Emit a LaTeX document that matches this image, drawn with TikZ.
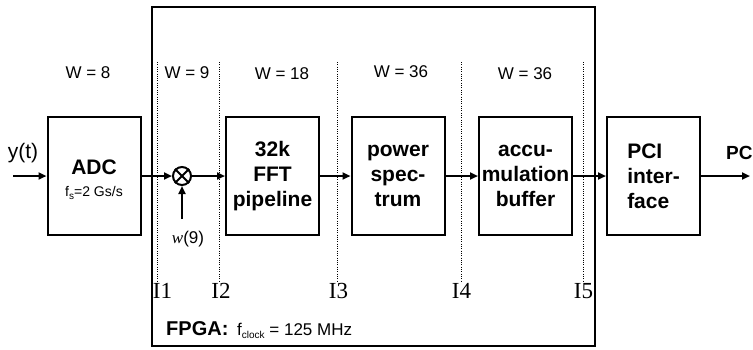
\documentclass[tikz,border=0pt]{standalone}
\usepackage{fontspec}
\setmainfont{Liberation Sans}
\newfontfamily\seriffont{Liberation Serif}
\usetikzlibrary{arrows.meta}
\newcommand{\lowsub}[1]{\raisebox{-0.35ex}{\fontsize{10}{10}\selectfont #1}}
\begin{document}
\begin{tikzpicture}[x=1pt,y=-1pt,
  blk/.style={draw,line width=2pt,minimum width=93pt,minimum height=118pt,inner sep=0pt,align=center,font=\fontsize{21}{25}\selectfont\bfseries},
  sig/.style={line width=2pt,-{Triangle[length=8pt,width=7pt]}},
  divider/.style={line width=1pt,dash pattern=on 1pt off 1.3pt},
  wlab/.style={anchor=base,inner sep=0pt,font=\fontsize{17}{17}\selectfont},
  ilab/.style={anchor=base,inner sep=0pt,font=\fontsize{23}{23}\seriffont},
]
\useasboundingbox (0,0) rectangle (753,349);
% FPGA frame
\draw[line width=2pt] (152,7) rectangle (595,346);
% blocks
\node[blk] (adc) at (94,176) {};
\node[inner sep=0pt,align=center,font=\fontsize{21}{25}\selectfont\bfseries] (adctxt) at ([yshift=-4pt]adc.center) {ADC\\[-3pt]{\fontsize{14}{16}\mdseries\selectfont f\lowsub{s}=2 Gs/s}};
\node[blk] (fft) at (272.5,176) {32k\\FFT\\pipeline};
\node[blk] (pow) at (398,176) {power\\spec-\\trum};
\node[blk] (acc) at (525.5,176) {accu-\\mulation\\buffer};
\node[blk,align=left] (pci) at (653.5,176) {PCI\\inter-\\face};
\node[draw,circle,line width=2pt,minimum size=18pt,inner sep=0pt] (mul) at (182,176) {};
\draw[line width=2pt] (mul.north west) -- (mul.south east) (mul.north east) -- (mul.south west);
% coordinates
\coordinate (in) at (13,176);
\coordinate (out) at (750,176);
\coordinate (wsrc) at (182,219);
% labels
\node[inner sep=0pt,font=\fontsize{21}{21}\selectfont] (yt) at (23,153) {y(t)};
\node[inner sep=0pt,anchor=base west,font=\fontsize{19}{19}\selectfont\bfseries] (pc) at (726,159) {PC};
\node[inner sep=0pt,anchor=base,font=\fontsize{17}{17}\selectfont] (wn) at (188,243) {{\seriffont\itshape w}(9)};
\node[wlab] (w8) at (88,78) {W = 8};
\node[wlab] (w9) at (187,78) {W = 9};
\node[wlab] (w18) at (282,79) {W = 18};
\node[wlab] (w36a) at (401,77) {W = 36};
\node[wlab] (w36b) at (525,79) {W = 36};
% dividers
\foreach \n/\x in {1/157,2/219,3/337,4/461,5/583}{
  \coordinate (d\n t) at (\x,62);
  \coordinate (d\n b) at (\x,281);
  \draw[divider] (d\n t) -- (d\n b);
}
\node[ilab] (i1) at (162.5,298) {I1};
\node[ilab] (i2) at (221,298) {I2};
\node[ilab] (i3) at (338.5,298) {I3};
\node[ilab] (i4) at (461.5,298) {I4};
\node[ilab] (i5) at (583.5,298) {I5};
% FPGA label
\node[inner sep=0pt,anchor=base west,font=\fontsize{20}{20}\selectfont\bfseries] (fpga) at (166,335) {FPGA:};
\node[inner sep=0pt,anchor=base west,font=\fontsize{17}{17}\selectfont] (fclk) at (237,335) {f\lowsub{clock} = 125 MHz};
% signal arrows
\draw[sig] (in) -- (adc);
\draw[sig] (adc) -- (mul);
\draw[sig] (mul) -- (fft);
\draw[sig] (fft) -- (pow);
\draw[sig] (pow) -- (acc);
\draw[sig] (acc) -- (pci);
\draw[sig] (pci) -- (out);
\draw[sig] (wsrc) -- (mul);
\end{tikzpicture}
\end{document}
